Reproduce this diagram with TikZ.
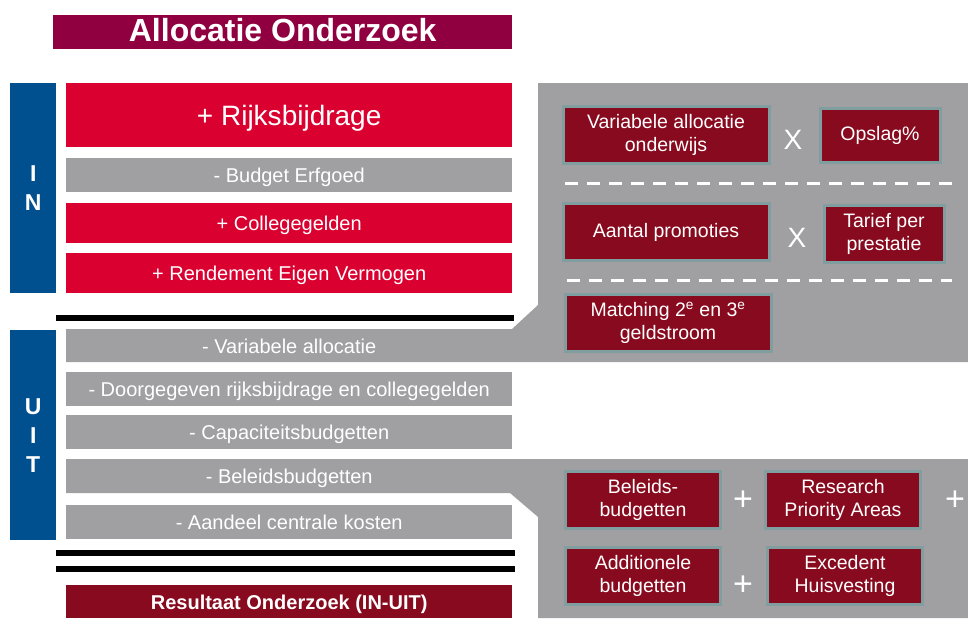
\documentclass[tikz,border=0pt]{standalone}
\usepackage{fontspec}
\setmainfont{Liberation Sans}
\usetikzlibrary{positioning}

\definecolor{titlered}{RGB}{144,0,64}
\definecolor{inblue}{RGB}{0,80,143}
\definecolor{inred}{RGB}{218,0,48}
\definecolor{outgray}{RGB}{160,160,163}
\definecolor{darkred}{RGB}{135,10,30}
\definecolor{tealrim}{RGB}{128,158,160}

\tikzset{
  bar/.style={inner sep=0pt, text=white, align=center, anchor=north west,
    minimum width=446pt, text height=15pt, text depth=0pt,
    font=\fontsize{20}{22}\selectfont},
  redbar/.style={bar, fill=inred},
  graybar/.style={bar, fill=outgray},
  side/.style={fill=inblue, text=white, inner sep=0pt, anchor=north west,
    minimum width=46pt, align=center, font=\bfseries\fontsize{23}{29}\selectfont},
  calcbox/.style={fill=darkred, draw=tealrim, line width=3pt, text=white,
    inner sep=0pt, align=center, minimum height=57pt, font=\fontsize{19.5}{23}\selectfont},
  sign/.style={text=white, inner sep=0pt},
  rule/.style={line width=6pt},
  sep/.style={white, line width=3pt, dash pattern=on 13pt off 9pt},
}

\begin{document}
\begin{tikzpicture}[x=1pt, y=-1pt]
  \useasboundingbox (0,0) rectangle (968,618);

  \node[bar, fill=titlered, minimum width=459pt, minimum height=34pt, text height=24pt, text depth=6pt,
    font=\bfseries\fontsize{32}{32}\selectfont] (title) at (53,15) {Allocatie Onderzoek};

  %IN
  \node[side, minimum height=210pt] (in) at (10,83) {I\\N};
  \node[redbar, minimum height=64pt, text height=21pt, font=\fontsize{28}{30}\selectfont] (rijks) at (66,83) {+ Rijksbijdrage};
  \node[graybar, minimum height=34pt] (erfgoed) at (66,158) {- Budget Erfgoed};
  \node[redbar, minimum height=40pt] (college) at (66,203) {+ Collegegelden};
  \node[redbar, minimum height=40pt] (rendement) at (66,253) {+ Rendement Eigen Vermogen};
  \draw[rule] (56,318) -- (514,318);

  %grey panels
  \fill[outgray] (538,83) -- (968,83) -- (968,362) -- (66,362) -- (66,329)
    -- (512,329) -- (538,305) -- cycle;
  \fill[outgray] (66,459) -- (968,459) -- (968,618) -- (538,618) -- (538,517)
    -- (510,493) -- (66,493) -- cycle;

  %UIT
  \node[side, minimum height=210pt] (uit) at (10,330) {U\\I\\T};
  \node[bar, minimum height=33pt] (varalloc) at (66,329) {- Variabele allocatie};
  \node[graybar, minimum height=34pt] (doorgegeven) at (66,372) {- Doorgegeven rijksbijdrage en collegegelden};
  \node[graybar, minimum height=34pt] (capaciteit) at (66,415) {- Capaciteitsbudgetten};
  \node[bar, minimum height=34pt] (beleid) at (66,459) {- Beleidsbudgetten};
  \node[graybar, minimum height=34pt] (aandeel) at (66,505) {- Aandeel centrale kosten};
  \draw[rule] (56,553) -- (515,553);
  \draw[rule] (56,569) -- (515,569);
  \node[bar, fill=darkred, minimum height=33pt, font=\bfseries\fontsize{20}{22}\selectfont] (resultaat) at (66,585) {Resultaat Onderzoek (IN-UIT)};

  %variabele allocatie
  \node[calcbox, minimum width=206pt] (onderwijs) at (666,135) {Variabele allocatie\\onderwijs};
  \node[sign, font=\fontsize{28}{28}\selectfont] (keer1) at (793,140) {X};
  \node[calcbox, minimum width=120pt, minimum height=54pt] (opslag) at (880,135) {Opslag\%};
  \draw[sep] (565,183) -- (952,183);
  \node[calcbox, minimum width=206pt] (promoties) at (666,232) {Aantal promoties};
  \node[sign, font=\fontsize{28}{28}\selectfont] (keer2) at (797,238) {X};
  \node[calcbox, minimum width=120pt] (tarief) at (884,234) {Tarief per\\prestatie};
  \draw[sep] (567,280) -- (952,280);
  \node[calcbox, minimum width=206pt] (matching) at (668,323) {Matching 2\textsuperscript{e} en 3\textsuperscript{e}\\geldstroom};

  %beleidsbudgetten
  \node[calcbox, minimum width=155pt] (beleidbox) at (643,500) {Beleids-\\budgetten};
  \node[sign, font=\fontsize{34}{34}\selectfont] (plus1) at (743,501) {+};
  \node[calcbox, minimum width=155pt] (rpa) at (843,500) {Research\\Priority Areas};
  \node[sign, font=\fontsize{34}{34}\selectfont] (plus2) at (955,501) {+};
  \node[calcbox, minimum width=155pt] (additioneel) at (643,576) {Additionele\\budgetten};
  \node[sign, font=\fontsize{34}{34}\selectfont] (plus3) at (743,586) {+};
  \node[calcbox, minimum width=155pt] (excedent) at (845,576) {Excedent\\Huisvesting};
\end{tikzpicture}
\end{document}
